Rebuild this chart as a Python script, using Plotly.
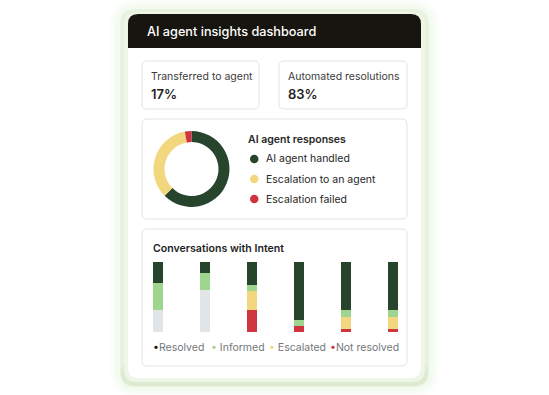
import plotly.graph_objects as go

W, H = 549, 395

# ---------------- data ----------------
kpi_labels = ["Transferred to agent", "Automated resolutions"]
kpi_values = ["17%", "83%"]

donut_labels = ["AI agent handled", "Escalation to an agent", "Escalation failed"]
donut_values = [62.5, 34.7, 2.8]
donut_colors = ["#27452d", "#f3d77e", "#d0343f"]

intents = ["Intent 1", "Intent 2", "Intent 3", "Intent 4", "Intent 5", "Intent 6"]
other_vals = [31, 60, 0, 0, 0, 0]
not_resolved = [0, 0, 32, 8, 5, 5]
escalated = [0, 0, 27, 0, 17, 17]
informed = [39, 25, 8, 9, 9, 9]
resolved = [30, 15, 33, 83, 69, 69]
bar_series = ["Resolved", "Informed", "Escalated", "Not resolved"]
bar_colors = {"Other": "#e2e5e7", "Not resolved": "#d0343f", "Escalated": "#f3d77e",
              "Informed": "#9fd68f", "Resolved": "#27452d"}

# ---------------- helpers ----------------
def px(x):
    return x / W

def py(y):
    return 1 - y / H

def pt(x, y):
    return f"{px(x):.5f},{py(y):.5f}"

def rrect(x0, y0, x1, y1, r, top=True, bottom=True):
    rt = r if top else 0
    rb = r if bottom else 0
    p = f"M {pt(x0 + rt, y0)} L {pt(x1 - rt, y0)} Q {pt(x1, y0)} {pt(x1, y0 + rt)} "
    p += f"L {pt(x1, y1 - rb)} Q {pt(x1, y1)} {pt(x1 - rb, y1)} "
    p += f"L {pt(x0 + rb, y1)} Q {pt(x0, y1)} {pt(x0, y1 - rb)} "
    p += f"L {pt(x0, y0 + rt)} Q {pt(x0, y0)} {pt(x0 + rt, y0)} Z"
    return p

shapes = []
def add_rr(x0, y0, x1, y1, r, fill, line=None, lw=0, top=True, bottom=True):
    shapes.append(dict(type="path", xref="paper", yref="paper", layer="below",
                       path=rrect(x0, y0, x1, y1, r, top, bottom),
                       fillcolor=fill, line=dict(color=line or "rgba(0,0,0,0)", width=lw)))

# glow
for i, a in enumerate([0.05, 0.07, 0.10]):
    g = 10 - i * 3
    add_rr(120 - g, 9 - g, 429 + g, 387 + g, 16 + g, f"rgba(205,232,185,{a})")
# frame
add_rr(120, 9, 429, 387, 16, "#e8f2de")
add_rr(121, 360, 428, 386, 14, "#dfead3", top=True)
add_rr(124, 12, 425, 382, 13, "#eef6e7")
# white card
add_rr(128, 14, 421, 378, 10, "#ffffff")
# header
add_rr(128, 14, 421, 48, 10, "#17150f", bottom=False)

# boxes
box_line = "#e1e3e6"
add_rr(142, 61, 259, 109, 5, "#ffffff", box_line, 1)
add_rr(279, 61, 407, 109, 5, "#ffffff", box_line, 1)
add_rr(142, 119, 407, 219, 5, "#ffffff", box_line, 1)
add_rr(142, 229, 407, 366, 5, "#ffffff", box_line, 1)

# donut legend dots
for i, c in enumerate(donut_colors):
    cy = 159 + 20 * i
    shapes.append(dict(type="circle", xref="paper", yref="paper", layer="above",
                       x0=px(250), x1=px(258.5), y0=py(cy + 4.25), y1=py(cy - 4.25),
                       fillcolor=c, line=dict(width=0)))

FONT = "Inter"
ann = []
def text(x, y, s, size, color, weight=None):
    ann.append(dict(x=px(x), y=py(y), xref="paper", yref="paper", text=s, showarrow=False,
                    xanchor="left", yanchor="middle",
                    font=dict(family=FONT, size=size, color=color,
                              weight=(500 if weight == "medium" else (600 if weight == "semi" else 400)))))

text(145, 31.5, "AI agent insights dashboard", 12.7, "#ffffff", "medium")
text(148.5, 76.5, kpi_labels[0], 10.5, "#3b3b3b")
text(148.5, 94, kpi_values[0], 13, "#1e1e1e", "semi")
text(285.5, 76.5, kpi_labels[1], 10.5, "#3b3b3b")
text(285.5, 94, kpi_values[1], 13, "#1e1e1e", "semi")
text(245.5, 139, "AI agent responses", 10.5, "#262626", "semi")
for i, lab in enumerate(donut_labels):
    text(263.5, 159 + 20 * i, lab, 10.5, "#262626")
text(150.5, 248, "Conversations with Intent", 10.6, "#1e1e1e", "semi")

leg_x = [150.5, 208.5, 266.5, 327.5]
for x, s in zip(leg_x, bar_series):
    c = bar_colors[s]
    if s == "Resolved":
        c = "#111111"
    sep = "" if s in ("Resolved", "Not resolved") else " "
    ann.append(dict(x=px(x), y=py(347), xref="paper", yref="paper", showarrow=False,
                    xanchor="left", yanchor="middle",
                    text=f"<span style='color:{c}'>•</span>{sep}{s}",
                    font=dict(family=FONT, size=10.5, color="#74777a")))

fig = go.Figure()

# donut
fig.add_trace(go.Pie(labels=donut_labels, values=donut_values, hole=0.71, sort=False,
                     direction="clockwise", rotation=0, textinfo="none",
                     marker=dict(colors=donut_colors, line=dict(width=0)),
                     domain=dict(x=[px(153.5), px(229.5)], y=[py(207), py(131)]),
                     showlegend=False))

# stacked bars
xs = list(range(len(intents)))
for name, vals in [("Other", other_vals), ("Not resolved", not_resolved), ("Escalated", escalated),
                   ("Informed", informed), ("Resolved", resolved)]:
    fig.add_trace(go.Bar(x=xs, y=vals, name=name, width=10 / 47,
                         marker=dict(color=bar_colors[name], line=dict(width=0)),
                         showlegend=False))

fig.update_layout(
    width=W, height=H, margin=dict(l=0, r=0, t=0, b=0),
    paper_bgcolor="#ffffff", plot_bgcolor="rgba(0,0,0,0)",
    barmode="stack", bargap=0,
    xaxis=dict(domain=[px(133.5), px(415.5)], range=[-0.5, 5.5], visible=False, fixedrange=True),
    yaxis=dict(domain=[py(332), py(262)], range=[0, 100], visible=False, fixedrange=True),
    shapes=shapes, annotations=ann,
)

fig.write_html("out.html")
